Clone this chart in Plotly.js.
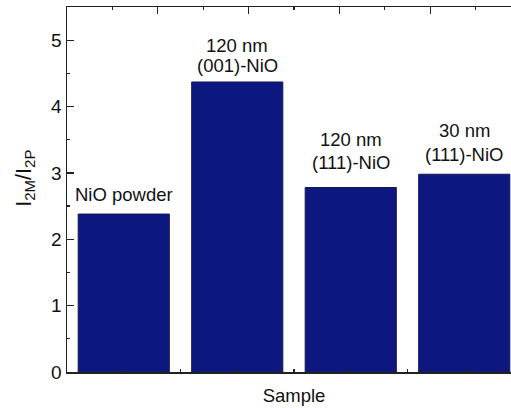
<!DOCTYPE html>
<html>
<head>
<meta charset="utf-8">
<script src="https://cdn.plot.ly/plotly-3.0.1.min.js"></script>
<style>
html, body { margin: 0; padding: 0; overflow: hidden; background: #fff; }
#chart { width: 522px; height: 408px; }
</style>
</head>
<body>
<div id="chart"></div>
<script>
// Data
const categories = ["NiO powder", "120 nm (001)-NiO", "120 nm (111)-NiO", "30 nm (111)-NiO"];
const ratios = [2.38, 4.37, 2.78, 2.98];
const labelLine1 = ["NiO powder", "120 nm", "120 nm", "30 nm"];
const labelLine2 = ["", "(001)-NiO", "(111)-NiO", "(111)-NiO"];
const labelY1 = [2.68, 4.92, 3.50, 3.64];
const labelY2 = [null, 4.62, 3.15, 3.28];
const yTitle = "I<sub>2M</sub>/I<sub>2P</sub>";
const xTitle = "Sample";

const xIdx = categories.map((c, i) => i);
const font = "Liberation Sans, Arial, sans-serif";
const axisColor = "#222";

const annotations = [];
categories.forEach((c, i) => {
  annotations.push({x: i, y: labelY1[i], xref: "x", yref: "y", text: labelLine1[i],
    showarrow: false, yanchor: "middle", xanchor: "center", font: {family: font, size: 18.5, color: "#111"}});
  if (labelLine2[i]) {
    annotations.push({x: i, y: labelY2[i], xref: "x", yref: "y", text: labelLine2[i],
      showarrow: false, yanchor: "middle", xanchor: "center", font: {family: font, size: 18.5, color: "#111"}});
  }
});
// y-axis title as rotated annotation
annotations.push({xref: "paper", yref: "paper", x: -0.092, y: 0.53, text: yTitle, textangle: -90,
  showarrow: false, xanchor: "center", yanchor: "middle", font: {family: font, size: 21.5, color: "#111"}});

const trace = {
  type: "bar",
  x: xIdx,
  y: ratios,
  text: categories,
  hoverinfo: "text+y",
  textposition: "none",
  marker: {color: "rgb(12,24,128)", line: {color: "rgb(20,26,80)", width: 1}},
  showlegend: false
};

// invisible trace to activate top axis
const topTrace = {type: "scatter", x: [0], y: [0], xaxis: "x2", yaxis: "y", mode: "markers",
  marker: {opacity: 0}, hoverinfo: "skip", showlegend: false};

const layout = {
  width: 522, height: 408,
  margin: {l: 67, r: 1, t: 7, b: 36},
  paper_bgcolor: "#fff", plot_bgcolor: "#fff",
  bargap: 0.197,
  font: {family: font, size: 18.5, color: "#111"},
  xaxis: {
    range: [-0.5, 3.5], tickmode: "linear", tick0: 0, dtick: 1,
    showticklabels: false, ticks: "inside", ticklen: 6.5, tickwidth: 1.3, tickcolor: axisColor,
    minor: {tickmode: "linear", tick0: 0.5, dtick: 1, ticks: "inside", ticklen: 3, tickwidth: 1.3, tickcolor: axisColor},
    showline: true, linecolor: axisColor, linewidth: 1.5, showgrid: false, zeroline: false,
    title: {text: xTitle, font: {family: font, size: 18.5, color: "#111"}, standoff: 16}
  },
  xaxis2: {
    overlaying: "x", side: "top", range: [0, 10], tickmode: "linear", tick0: 0, dtick: 2,
    showticklabels: false, ticks: "inside", ticklen: 6.5, tickwidth: 1.3, tickcolor: axisColor,
    minor: {tickmode: "linear", tick0: 1, dtick: 2, ticks: "inside", ticklen: 3, tickwidth: 1.3, tickcolor: axisColor},
    showline: true, linecolor: axisColor, linewidth: 1.5, showgrid: false, zeroline: false
  },
  yaxis: {
    range: [0, 5.5], tickmode: "linear", tick0: 0, dtick: 1,
    ticks: "inside", ticklen: 7, tickwidth: 1.3, tickcolor: axisColor,
    minor: {tickmode: "linear", tick0: 0.5, dtick: 1, ticks: "inside", ticklen: 3, tickwidth: 1.3, tickcolor: axisColor},
    showline: true, linecolor: axisColor, linewidth: 1.5, showgrid: false, zeroline: false,
    tickfont: {family: font, size: 19, color: "#111"}
  },
  annotations: annotations
};

Plotly.newPlot("chart", [trace, topTrace], layout, {displayModeBar: false, staticPlot: true});
</script>
</body>
</html>
